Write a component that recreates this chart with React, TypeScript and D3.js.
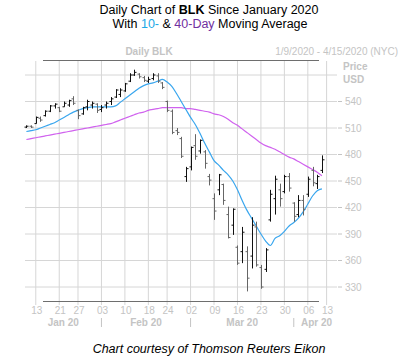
import * as d3 from "d3";

// trading days shown on the chart (last one, Apr 13, only carries a tick)
const days = [
  "2020-01-09", "2020-01-10", "2020-01-13", "2020-01-14", "2020-01-15", "2020-01-16", "2020-01-17",
  "2020-01-21", "2020-01-22", "2020-01-23", "2020-01-24", "2020-01-27", "2020-01-28", "2020-01-29",
  "2020-01-30", "2020-01-31", "2020-02-03", "2020-02-04", "2020-02-05", "2020-02-06", "2020-02-07",
  "2020-02-10", "2020-02-11", "2020-02-12", "2020-02-13", "2020-02-14", "2020-02-18", "2020-02-19",
  "2020-02-20", "2020-02-21", "2020-02-24", "2020-02-25", "2020-02-26", "2020-02-27", "2020-02-28",
  "2020-03-02", "2020-03-03", "2020-03-04", "2020-03-05", "2020-03-06", "2020-03-09", "2020-03-10",
  "2020-03-11", "2020-03-12", "2020-03-13", "2020-03-16", "2020-03-17", "2020-03-18", "2020-03-19",
  "2020-03-20", "2020-03-23", "2020-03-24", "2020-03-25", "2020-03-26", "2020-03-27", "2020-03-30",
  "2020-03-31", "2020-04-01", "2020-04-02", "2020-04-03", "2020-04-06", "2020-04-07", "2020-04-08",
  "2020-04-09", "2020-04-13",
];

const opens = [
  511, 512, 515, 521, 524, 529, 535, 533, 534, 536, 543, 530, 526, 534, 536, 537, 531, 536, 540, 545,
  548, 552, 563, 570, 571, 567, 563, 566, 569, 561, 540, 529, 507, 498, 455, 466, 490, 484, 483, 455,
  430, 440, 446, 412, 400, 375, 370, 370, 365, 398, 352, 350, 406, 430, 440, 438, 455, 425, 412, 428,
  435, 462, 447, 462,
];
const highs = [
  513, 513, 523, 523, 530, 536, 538, 534, 540, 542, 546, 531, 534, 542, 540, 538, 536, 540, 545, 554,
  555, 561, 572, 576, 572, 569, 568, 572, 572, 562, 541, 531, 510, 500, 466, 489, 503, 497, 485, 458,
  436, 458, 447, 421, 419, 377, 398, 376, 409, 404, 355, 374, 440, 456, 447, 457, 459, 426, 434, 434,
  455, 466, 457, 479,
];
const lows = [
  510, 510, 515, 517, 523, 528, 532, 528, 534, 534, 536, 520, 525, 530, 532, 527, 528, 532, 536, 544,
  545, 551, 562, 569, 566, 562, 561, 564, 561, 554, 528, 503, 502, 476, 449, 462, 474, 481, 464, 445,
  406, 434, 423, 385, 389, 355, 357, 325, 351, 353, 328, 347, 404, 412, 421, 436, 438, 404, 409, 411,
  432, 444, 441, 459,
];
const closes = [
  512, 511, 522, 519, 529, 535, 537, 529, 538, 541, 538, 524, 533, 540, 538, 530, 533, 538, 543, 553,
  553, 560, 570, 573, 568, 564, 565, 570, 563, 556, 530, 505, 505, 478, 464, 488, 478, 496, 470, 451,
  416, 457, 428, 386, 418, 357, 392, 340, 400, 355, 330, 372, 435, 452, 430, 455, 442, 410, 428, 418,
  452, 448, 455, 474,
];

const ma10 = [
  506, 507, 508, 510, 512, 514, 516, 519, 522, 525, 528, 530, 532, 533, 534, 534, 534, 534, 534, 535,
  539, 543, 547, 551, 555, 558, 560, 561, 563, 565, 562, 557, 549, 540, 531, 522, 514, 504, 493, 483,
  473, 468, 462, 457, 450, 440, 428, 417, 408, 399, 390, 382, 377, 385, 388, 393, 399, 403, 408, 415,
  424, 433, 439, 441,
];
const ma40 = [
  497, 498, 499, 500, 501, 502, 503, 504, 505, 506, 507, 508, 509, 510, 511, 512, 513, 514, 515, 517,
  519, 521, 523, 525, 527, 528, 530, 531, 532, 533, 533, 533, 533, 533, 532, 532, 531, 530, 529, 528,
  526, 525, 523, 520, 516, 513, 509, 505, 501, 497, 493, 490, 488, 486, 483, 480, 477, 475, 472, 469,
  466, 463, 460, 456,
];

const priceTicks = [540, 510, 480, 450, 420, 390, 360, 330];
const gridPrices = [570, 540, 510, 480, 450, 420, 390, 360, 330];
const weekTicks = [
  "2020-01-13", "2020-01-21", "2020-01-27", "2020-02-03", "2020-02-10", "2020-02-18", "2020-02-24",
  "2020-03-02", "2020-03-09", "2020-03-16", "2020-03-23", "2020-03-30", "2020-04-06", "2020-04-13",
];
const monthStarts = ["2020-02-03", "2020-03-02", "2020-04-01"];
const months = [
  { label: "Jan 20", from: "2020-01-09", to: "2020-02-03" },
  { label: "Feb 20", from: "2020-02-03", to: "2020-03-02" },
  { label: "Mar 20", from: "2020-03-02", to: "2020-04-01" },
  { label: "Apr 20", from: "2020-04-01", to: "2020-04-13" },
];

const W = 417;
const H = 360;
const GRAY = "#c4c4c4";
const GRID = "#d6d6d6";
const FONT = "'Liberation Sans', Arial, sans-serif";

export default function App() {
  const x = d3.scaleLinear().domain([0, days.length - 1]).range([26.4, 326.6]);
  const xi = (d: string) => x(days.indexOf(d));
  const y = d3.scaleLinear().domain([330, 570]).range([287, 75]);
  const dayFmt = d3.timeFormat("%d");
  const parse = d3.timeParse("%Y-%m-%d");

  const line = d3
    .line<number>()
    .x((_, i) => x(i))
    .y((v) => y(v))
    .curve(d3.curveMonotoneX);

  const bars = opens.map((o, i) => ({ o, h: highs[i], l: lows[i], c: closes[i], i }));

  return (
    <svg
      width={W}
      height={H}
      style={{ position: "absolute", left: 0, top: 0, background: "#fff" }}
      fontFamily={FONT}
    >
      <text x={209} y={14} textAnchor="middle" fontSize={12.5} fill="#000">
        Daily Chart of <tspan fontWeight="bold">BLK</tspan> Since January 2020
      </text>
      <text x={210} y={28} textAnchor="middle" fontSize={12.5} fill="#000">
        With <tspan fill="#1aa8e6">10-</tspan> & <tspan fill="#7030a0">40-Day</tspan> Moving Average
      </text>

      <text x={149} y={55} textAnchor="middle" fontSize={10} fontWeight="bold" fill={GRAY}>
        Daily BLK
      </text>
      <text x={398} y={55} textAnchor="end" fontSize={10} fill={GRAY}>
        1/9/2020 - 4/15/2020 (NYC)
      </text>

      {/* grid */}
      {gridPrices.map((p) => (
        <line key={p} x1={25} x2={337} y1={y(p)} y2={y(p)} stroke={GRID} strokeWidth={1} />
      ))}
      {weekTicks.map((d) => (
        <line key={d} x1={xi(d)} x2={xi(d)} y1={61} y2={305} stroke={GRID} strokeWidth={1} />
      ))}
      <line x1={43} x2={319} y1={60.5} y2={60.5} stroke="#6e6e6e" strokeWidth={1} />
      <line x1={43} x2={319} y1={301.5} y2={301.5} stroke="#6e6e6e" strokeWidth={1} />

      {/* price axis */}
      <text x={343} y={70} fontSize={10} fontWeight="bold" fill={GRAY}>Price</text>
      <text x={343} y={83} fontSize={10} fontWeight="bold" fill={GRAY}>USD</text>
      {priceTicks.map((p) => (
        <g key={p}>
          <line x1={338} x2={342} y1={y(p)} y2={y(p)} stroke={GRAY} />
          <text x={345} y={y(p)} dy="0.35em" fontSize={10} fill={GRAY}>{p}</text>
        </g>
      ))}

      {/* moving averages */}
      <path d={line(ma40) ?? ""} fill="none" stroke="#d062ee" strokeWidth={1.2} />
      <path d={line(ma10) ?? ""} fill="none" stroke="#39a6ee" strokeWidth={1.2} />

      {/* OHLC bars */}
      {bars.map((b) => {
        const cx = Math.round(x(b.i)) + 0.5;
        const col = b.c >= b.o ? "#111" : "#666";
        return (
          <g key={b.i} stroke={col} strokeWidth={1}>
            <line x1={cx} x2={cx} y1={y(b.h)} y2={y(b.l)} />
            <line x1={cx - 2} x2={cx} y1={y(b.o)} y2={y(b.o)} />
            <line x1={cx} x2={cx + 2} y1={y(b.c)} y2={y(b.c)} />
          </g>
        );
      })}

      {/* date axis */}
      {weekTicks.map((d) => (
        <text key={d} x={xi(d) + 1} y={314} textAnchor="middle" fontSize={10} fill={GRAY}>
          {dayFmt(parse(d) as Date)}
        </text>
      ))}
      {monthStarts.map((d) => (
        <line key={d} x1={xi(d)} x2={xi(d)} y1={318} y2={327} stroke={GRAY} />
      ))}
      {months.map((m) => {
        const a = m.from === days[0] ? 25 : xi(m.from);
        const b = xi(m.to);
        const cx = m.label === "Apr 20" ? b - 10 : (a + b) / 2;
        return (
          <text key={m.label} x={cx} y={326} textAnchor="middle" fontSize={10} fontWeight="bold" fill={GRAY}>
            {m.label}
          </text>
        );
      })}

      <text x={209} y={353} textAnchor="middle" fontSize={12.5} fontStyle="italic" fill="#000">
        Chart courtesy of Thomson Reuters Eikon
      </text>
    </svg>
  );
}
